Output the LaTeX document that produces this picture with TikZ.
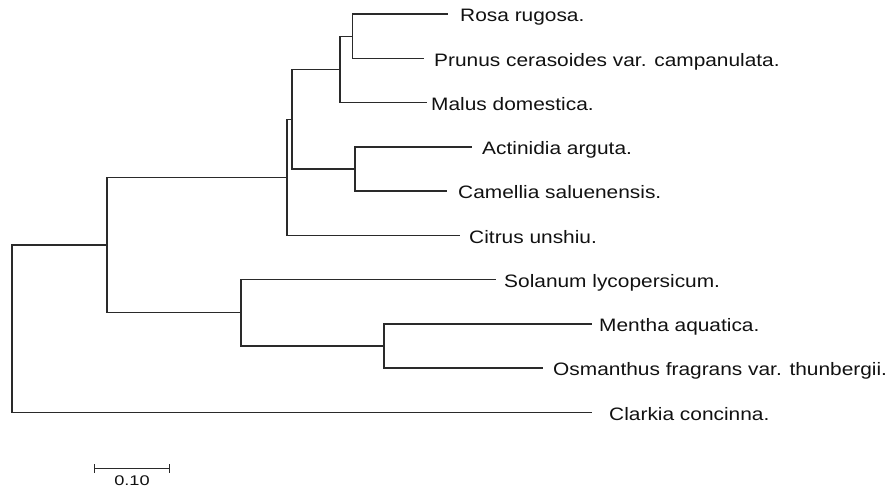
\documentclass[tikz,border=0pt]{standalone}
\usepackage{fontspec}
\setmainfont{Liberation Sans}
\usetikzlibrary{positioning}
\definecolor{ink}{HTML}{111111}
\definecolor{twig}{HTML}{2A2A2A}
\newcommand{\taxonfont}{\fontsize{18}{20}\selectfont}
\newcommand{\scalefont}{\fontsize{14}{16}\selectfont}
\tikzset{
  every picture/.style = {line join=miter},
  branch/.style        = {line width=1.4pt, twig},
  taxon/.style         = {font=\taxonfont, text=ink, anchor=west, inner sep=0pt,
                          text height=15.5pt, text depth=0pt, xscale=1.16},
  barlabel/.style      = {font=\scalefont, text=ink, inner sep=0pt, xscale=1.3},
}

\begin{document}
\begin{tikzpicture}[x=1pt, y=-1pt]
  \useasboundingbox (0,0) rectangle (888,488);

  % ---------- internal nodes (x = depth, y = midpoint of the children) -------
  \coordinate (root) at (12,328.6);
  \coordinate (n8)   at (107,245.0);
  \coordinate (n5)   at (287,177.3);
  \coordinate (n4)   at (292,119.2);
  \coordinate (n2)   at (340,69.3);
  \coordinate (n1)   at (352.7,36.2);
  \coordinate (n3)   at (355,169.1);
  \coordinate (n7)   at (241,312.7);
  \coordinate (n6)   at (384,345.9);

  % ---------- tips: end of the branch, then the name -------------------------
  \coordinate (tRosa)  at (448,14.0);   \node[taxon] (rosa)  at (460,14.0)  {Rosa rugosa.};
  \coordinate (tPrun)  at (424,58.3);   \node[taxon] (prun)  at (434,58.3)  {Prunus cerasoides var. campanulata.};
  \coordinate (tMalu)  at (427,102.5);  \node[taxon] (malu)  at (431,102.5) {Malus domestica.};
  \coordinate (tActi)  at (472,146.8);  \node[taxon] (acti)  at (482,146.8) {Actinidia arguta.};
  \coordinate (tCame)  at (447,191.0);  \node[taxon] (came)  at (458,191.0) {Camellia saluenensis.};
  \coordinate (tCitr)  at (460,235.3);  \node[taxon] (citr)  at (469,235.3) {Citrus unshiu.};
  \coordinate (tSola)  at (496,279.5);  \node[taxon] (sola)  at (504,279.5) {Solanum lycopersicum.};
  \coordinate (tMent)  at (592,323.8);  \node[taxon] (ment)  at (599,323.8) {Mentha aquatica.};
  \coordinate (tOsma)  at (543,368.0);  \node[taxon] (osma)  at (553,368.0) {Osmanthus fragrans var. thunbergii.};
  \coordinate (tClar)  at (592,412.3);  \node[taxon] (clar)  at (609,412.3) {Clarkia concinna.};

  % ---------- branches: each parent drawn as an elbow to its children --------
  \draw[branch] (root) |- (n8);
  \draw[branch] (root) |- (tClar);
  \draw[branch] (n8) |- (n5);
  \draw[branch] (n8) |- (n7);
  \draw[branch] (n5) |- (n4);
  \draw[branch] (n5) |- (tCitr);
  \draw[branch] (n4) |- (n2);
  \draw[branch] (n4) |- (n3);
  \draw[branch] (n2) |- (n1);
  \draw[branch] (n2) |- (tMalu);
  \draw[branch] (n1) |- (tRosa);
  \draw[branch] (n1) |- (tPrun);
  \draw[branch] (n3) |- (tActi);
  \draw[branch] (n3) |- (tCame);
  \draw[branch] (n7) |- (tSola);
  \draw[branch] (n7) |- (n6);
  \draw[branch] (n6) |- (tMent);
  \draw[branch] (n6) |- (tOsma);

  % ---------- scale bar --------------------------------------------------------
  \coordinate (barL) at (94.3,468.3);
  \coordinate (barR) at (169.3,468.3);
  \draw[branch] (barL) -- (barR);
  \draw[branch] ([yshift=-4.5pt]barL) -- ([yshift=4.5pt]barL);
  \draw[branch] ([yshift=-4.5pt]barR) -- ([yshift=4.5pt]barR);
  \node[barlabel] (barval) at (132,481) {0.10};
\end{tikzpicture}
\end{document}
